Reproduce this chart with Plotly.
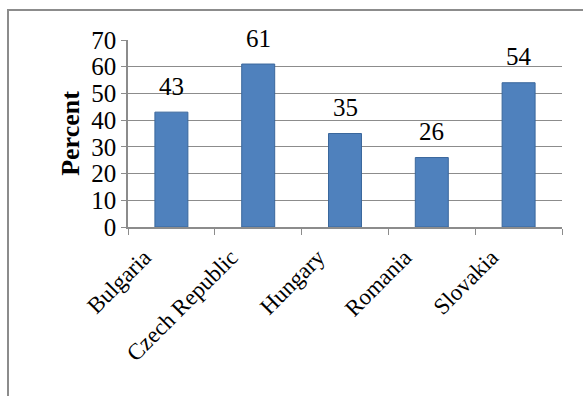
import plotly.graph_objects as go

countries = ["Bulgaria", "Czech Republic", "Hungary", "Romania", "Slovakia"]
percent = [43, 61, 35, 26, 54]
y_ticks = [0, 10, 20, 30, 40, 50, 60, 70]

FONT = "Liberation Serif, Times New Roman, serif"

fig = go.Figure()
fig.add_trace(go.Bar(
    x=countries, y=percent,
    marker=dict(color="#4F81BD", line=dict(color="#3A679C", width=1)),
    width=0.38,
    hoverinfo="x+y",
))

for c, v in zip(countries, percent):
    fig.add_annotation(x=c, y=v, text=str(v), showarrow=False,
                       yshift=26, font=dict(family=FONT, size=25, color="black"))

L, R, T, B = 128, 21, 40, 169
W, H = 583, 396
pw, ph = W - L - R, H - T - B
fig.add_shape(type="rect", xref="paper", yref="paper",
              x0=(8 - L) / pw, x1=(W + 10 - L) / pw,
              y0=-(H + 10 - T - ph) / ph, y1=(ph + T - 10) / ph,
              line=dict(color="#8c8c8c", width=2), fillcolor="rgba(0,0,0,0)", layer="below")

fig.update_layout(
    width=W, height=H,
    margin=dict(l=L, r=R, t=T, b=B),
    paper_bgcolor="white", plot_bgcolor="white",
    showlegend=False,
    font=dict(family=FONT, size=24, color="black"),
    xaxis=dict(
        tickangle=-45, tickson="boundaries", ticks="outside", ticklen=6,
        tickcolor="#8c8c8c", showline=True, linecolor="#8c8c8c", linewidth=1.5,
        showgrid=False, tickfont=dict(family=FONT, size=23),
        ticklabelshift=-27, ticklabelstandoff=6,
    ),
    yaxis=dict(
        range=[0, 70], tickvals=y_ticks, ticks="outside", ticklen=5,
        tickcolor="#8c8c8c", showline=True, linecolor="#8c8c8c", linewidth=1.5,
        showgrid=True, gridcolor="#8c8c8c", gridwidth=1.2, zeroline=False,
        tickfont=dict(family=FONT, size=25),
        title=dict(text="<b>Percent</b>", font=dict(family=FONT, size=26), standoff=4),
    ),
)

fig.write_html("out.html")
